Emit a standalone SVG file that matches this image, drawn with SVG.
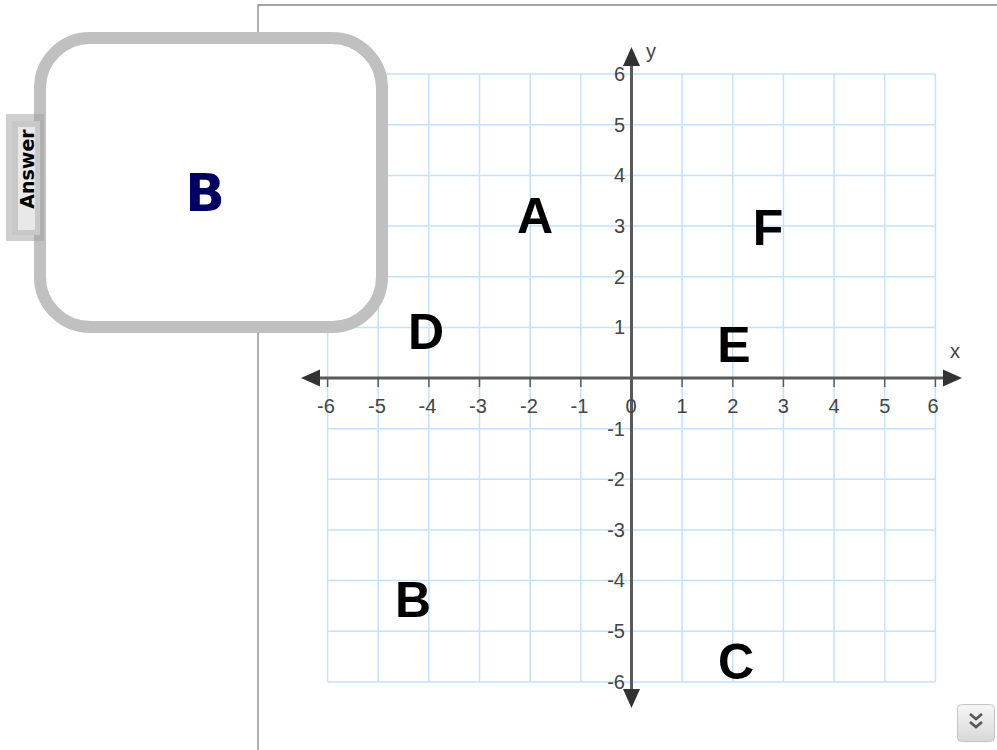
<svg xmlns="http://www.w3.org/2000/svg" width="997" height="750" viewBox="0 0 997 750">
<style>
.grid line{stroke:#c4e2fa;stroke-width:1.5}
.tick{font-family:"Liberation Sans",Arial,sans-serif;font-size:20px;fill:#444}
.big{font-family:"Liberation Sans",Arial,sans-serif;font-size:50px;font-weight:bold;fill:#000;text-anchor:middle}
.axis{stroke:#5a5a5a;stroke-width:3}
.tk{stroke:#5a5a5a;stroke-width:1.5}
</style>
<defs>
<linearGradient id="btn" x1="0" y1="0" x2="0" y2="1"><stop offset="0" stop-color="#f6f6f6"/><stop offset="1" stop-color="#d8d8d8"/></linearGradient>
</defs>
<rect width="997" height="750" fill="#fff"/>
<g id="panel"><path d="M258 750V5H997" fill="none" stroke="#888" stroke-width="1.3"/></g>
<g id="grid" class="grid">
<line x1="327.6" y1="74" x2="327.6" y2="682"/><line x1="378.2" y1="74" x2="378.2" y2="682"/><line x1="428.9" y1="74" x2="428.9" y2="682"/><line x1="479.5" y1="74" x2="479.5" y2="682"/><line x1="530.2" y1="74" x2="530.2" y2="682"/><line x1="580.8" y1="74" x2="580.8" y2="682"/><line x1="682.1" y1="74" x2="682.1" y2="682"/><line x1="732.8" y1="74" x2="732.8" y2="682"/><line x1="783.4" y1="74" x2="783.4" y2="682"/><line x1="834.1" y1="74" x2="834.1" y2="682"/><line x1="884.7" y1="74" x2="884.7" y2="682"/><line x1="935.4" y1="74" x2="935.4" y2="682"/>
<line x1="327.6" y1="74.1" x2="935.4" y2="74.1"/><line x1="327.6" y1="124.8" x2="935.4" y2="124.8"/><line x1="327.6" y1="175.4" x2="935.4" y2="175.4"/><line x1="327.6" y1="226.1" x2="935.4" y2="226.1"/><line x1="327.6" y1="276.7" x2="935.4" y2="276.7"/><line x1="327.6" y1="327.4" x2="935.4" y2="327.4"/><line x1="327.6" y1="428.7" x2="935.4" y2="428.7"/><line x1="327.6" y1="479.3" x2="935.4" y2="479.3"/><line x1="327.6" y1="530" x2="935.4" y2="530"/><line x1="327.6" y1="580.6" x2="935.4" y2="580.6"/><line x1="327.6" y1="631.3" x2="935.4" y2="631.3"/><line x1="327.6" y1="681.9" x2="935.4" y2="681.9"/>
</g>
<g id="axes">
<line class="axis" x1="318" y1="378" x2="945" y2="378"/>
<line class="axis" x1="631.5" y1="64" x2="631.5" y2="692"/>
<path d="M301 378L320 369.5V386.5Z" fill="#333"/>
<path d="M962 378L943 369.5V386.5Z" fill="#333"/>
<path d="M631.5 47L623 66H640Z" fill="#333"/>
<path d="M631.5 708L623 689H640Z" fill="#333"/>
<g class="tk">
<line x1="327.6" y1="378" x2="327.6" y2="387"/><line x1="378.2" y1="378" x2="378.2" y2="387"/><line x1="428.9" y1="378" x2="428.9" y2="387"/><line x1="479.5" y1="378" x2="479.5" y2="387"/><line x1="530.2" y1="378" x2="530.2" y2="387"/><line x1="580.8" y1="378" x2="580.8" y2="387"/><line x1="682.1" y1="378" x2="682.1" y2="387"/><line x1="732.8" y1="378" x2="732.8" y2="387"/><line x1="783.4" y1="378" x2="783.4" y2="387"/><line x1="834.1" y1="378" x2="834.1" y2="387"/><line x1="884.7" y1="378" x2="884.7" y2="387"/><line x1="935.4" y1="378" x2="935.4" y2="387"/>
</g>
<text class="tick" x="955" y="358" text-anchor="middle" font-size="22">x</text>
<text class="tick" x="651" y="58" text-anchor="middle" font-size="22">y</text>
<g text-anchor="middle" class="tick">
<text class="tick" x="326" y="412.5">-6</text><text class="tick" x="377" y="412.5">-5</text><text class="tick" x="427.5" y="412.5">-4</text><text class="tick" x="478" y="412.5">-3</text><text class="tick" x="529" y="412.5">-2</text><text class="tick" x="579.5" y="412.5">-1</text><text class="tick" x="631" y="412.5">0</text><text class="tick" x="682" y="412.5">1</text><text class="tick" x="732.8" y="412.5">2</text><text class="tick" x="783.4" y="412.5">3</text><text class="tick" x="834.1" y="412.5">4</text><text class="tick" x="884.7" y="412.5">5</text><text class="tick" x="933" y="412.5">6</text>
</g>
<g text-anchor="end">
<text class="tick" x="625" y="81">6</text><text class="tick" x="625" y="131.6">5</text><text class="tick" x="625" y="182.2">4</text><text class="tick" x="625" y="232.9">3</text><text class="tick" x="625" y="283.5">2</text><text class="tick" x="625" y="334.2">1</text><text class="tick" x="625" y="435.5">-1</text><text class="tick" x="625" y="486.1">-2</text><text class="tick" x="625" y="536.8">-3</text><text class="tick" x="625" y="587.4">-4</text><text class="tick" x="625" y="638.1">-5</text><text class="tick" x="625" y="688.7">-6</text>
</g>
</g>
<g id="label-A"><text class="big" x="535" y="233">A</text></g>
<g id="label-F"><text class="big" x="768" y="245">F</text></g>
<g id="label-D"><text class="big" x="426" y="349">D</text></g>
<g id="label-E"><text class="big" x="734" y="362">E</text></g>
<g id="label-B"><text class="big" x="413" y="617">B</text></g>
<g id="label-C"><text class="big" x="736" y="679">C</text></g>
<g id="answer-box">
<rect x="40" y="38" width="342" height="289" rx="50" fill="#fff" stroke="#c0c0c0" stroke-width="12"/>
<text x="205" y="211" text-anchor="middle" font-family="DejaVu Sans,sans-serif" font-weight="bold" font-size="52" fill="#000060">B</text>
</g>
<g id="answer-tab">
<rect x="6" y="114" width="38" height="127" fill="#a0a0a0" fill-opacity="0.5"/>
<rect x="12" y="121" width="28" height="114" fill="#c8c8c8"/>
<rect x="18" y="127" width="17" height="103" fill="#e8e8e8"/>
<text transform="translate(33.5 169) rotate(-90)" text-anchor="middle" font-family="DejaVu Sans,sans-serif" font-weight="bold" font-size="19" fill="#000">Answer</text>
</g>
<g id="scroll-button">
<rect x="957.5" y="704.5" width="37" height="37" rx="4" fill="url(#btn)" stroke="#c4c4c4"/>
<path d="M970 714l6 5 6-5M970 722l6 5 6-5" fill="none" stroke="#555" stroke-width="2.5"/>
</g>
</svg>
